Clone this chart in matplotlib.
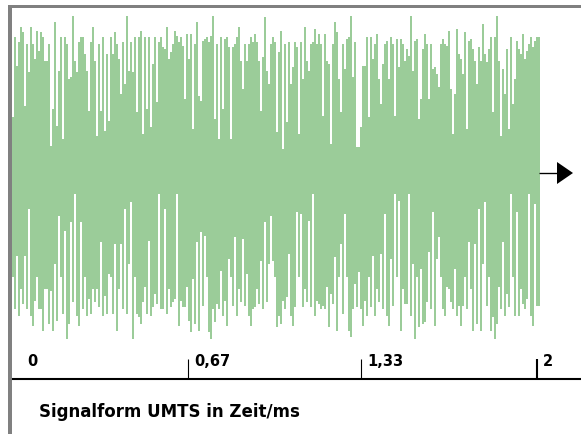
import numpy as np
import matplotlib
matplotlib.use("Agg")
import matplotlib.pyplot as plt
from matplotlib.patches import Rectangle, Polygon

# ---------------- data ----------------
# upper envelope of the UMTS signal (amplitude, arbitrary units), one value per sample
top_amp = [
    56, 136, 107, 131, 146, 141, 67, 129, 101, 146, 129, 114, 142, 122, 141, 136, 112, 112, 129, 27,
    64, 151, 47, 102, 136, 34, 136, 129, 94, 96, 157, 112, 101, 131, 136, 136, 119, 102, 62, 131,
    146, 112, 37, 129, 62, 136, 42, 119, 52, 136, 119, 141, 129, 114, 79, 131, 89, 157, 102, 131,
    101, 136, 61, 136, 142, 39, 136, 64, 136, 46, 109, 136, 71, 131, 136, 126, 124, 146, 114, 121,
    129, 142, 137, 131, 136, 127, 74, 139, 114,
    139, 44, 129, 151, 77, 72, 132, 134, 136, 131, 137, 157, 54, 129, 34, 136, 64, 134, 136, 126,
    34, 126, 129, 136, 146, 112, 84, 129, 112, 129, 136, 131, 139, 131, 112, 62, 116, 156, 102, 89,
    129, 136, 131, 41, 121, 142, 24, 129, 51, 131, 89, 106, 131, 126, 39, 131, 94, 146, 112, 102,
    129, 131, 144, 129, 139, 129, 57, 139, 112, 109, 29, 129, 151, 141, 94, 61, 129, 104, 134, 136,
    157, 96, 131, 26, 26, 46, 107, 107, 136, 56,
    136, 114, 129, 139, 94, 69, 109, 129, 132, 94, 136, 129, 57, 134, 106, 134, 129, 112, 124, 117,
    157, 102, 132, 134, 54, 74, 124, 139, 129, 74, 129, 104, 106, 99, 86, 129, 134, 129, 127, 142,
    84, 39, 79, 144, 119, 114, 99, 141, 44, 132, 134, 124, 112, 89, 126, 112, 149, 119, 111, 124,
    136, 61, 136, 157, 112, 37, 104, 79, 124, 44, 136, 69, 94, 132, 124, 119, 139, 114, 122, 129,
    136, 126, 132, 136, 136,
]
# lower envelope of the UMTS signal
bottom_amp = [
    -104, -136, -83, -143, -116, -131, -83, -136, -36, -143, -153, -128, -104, -136, -136, -158, -116, -116, -151, -118,
    -158, -91, -148, -43, -104, -141, -58, -166, -151, -49, -129, -21, -143, -153, -49, -136, -104, -143, -126, -141,
    -116, -129, -116, -134, -69, -143, -123, -141, -101, -104, -141, -71, -158, -116, -71, -136, -36, -141, -91, -29,
    -166, -104, -141, -144, -151, -129, -114, -141, -68, -143, -134, -121, -131, -21, -136, -136, -36, -141, -116, -134,
    -129, -126, -21, -153, -128, -134, -134, -114, -148,
    -159, -106, -151, -69, -158, -59, -133, -63, -104, -159, -166, -136, -149, -131, -136, -98, -143, -128, -153, -86,
    -104, -133, -64, -143, -116, -129, -66, -133, -101, -143, -153, -136, -134, -116, -131, -88, -136, -49, -129, -91,
    -43, -88, -104, -154, -143, -151, -128, -136, -124, -81, -143, -153, -134, -39, -104, -41, -134, -116, -129, -48,
    -134, -21, -143, -128, -131, -136, -133, -136, -114, -154, -121, -131, -84, -158, -104, -71, -141, -41, -104, -158,
    -164, -136, -111, -134, -99, -136, -153, -128, -143, -104,
    -134, -83, -143, -116, -129, -81, -136, -41, -143, -153, -86, -133, -21, -104, -28, -158, -116, -131, -131, -21,
    -143, -91, -166, -104, -154, -96, -151, -149, -129, -79, -136, -39, -153, -86, -64, -104, -136, -143, -114, -116,
    -129, -136, -96, -143, -133, -153, -133, -104, -136, -69, -116, -158, -71, -151, -36, -158, -91, -29, -133, -104,
    -158, -144, -166, -151, -114, -136, -69, -143, -121, -134, -21, -104, -143, -39, -143, -116, -131, -136, -126, -21,
    -143, -153, -31, -133, -133,
]
duration_ms = 2.0
tick_values = [0.0, 0.67, 1.33, 2.0]
tick_labels = ["0", "0,67", "1,33", "2"]
caption = "Signalform UMTS in Zeit/ms"

# ---------------- layout ----------------
W, H = 581, 435
PX_PER_MS = 262.5          # horizontal scale
X0 = 12                    # pixel column of t = 0
Y0 = 174                   # pixel row of amplitude 0
GREEN = "#9bcc99"
GRAY = "#808080"

fig = plt.figure(figsize=(W / 100, H / 100), dpi=100)
fig.patch.set_facecolor("white")
ax = fig.add_axes([0, 0, 1, 1])
ax.set_xlim(-X0 / PX_PER_MS, (W - X0) / PX_PER_MS)
ax.set_ylim(Y0 - H, Y0)
ax.axis("off")

def tx(px):   # pixel offset -> time units
    return px / PX_PER_MS

n = min(len(top_amp), len(bottom_amp))
dt = tx(2)
t = np.arange(n) * dt
top = np.array(top_amp[:n], dtype=float)
bot = np.array(bottom_amp[:n], dtype=float)

# zero line behind the signal
ax.plot([0, tx(545)], [0, 0], color="black", lw=0.8, zorder=1, solid_capstyle="butt")
# signal
ax.bar(t, top - bot, bottom=bot, width=dt, align="edge", color=GREEN,
       linewidth=0, zorder=2)
# arrow to the right of the signal
ax.plot([tx(527), tx(546)], [0, 0], color="black", lw=0.9, zorder=3, solid_capstyle="butt")
ax.add_patch(Polygon([[tx(545), 11], [tx(561), 0], [tx(545), -11]],
                     closed=True, color="black", zorder=3, lw=0))

# time axis
axis_y = Y0 - 380
ax.plot([tx(0), tx(W)], [axis_y, axis_y], color="black", lw=1.5, zorder=3,
        solid_capstyle="butt")
for v, lab in zip(tick_values, tick_labels):
    if v > 0:
        lw = 1.5 if v == duration_ms else 0.8
        ax.plot([v, v], [axis_y, axis_y + 20], color="black", lw=lw, zorder=3,
                solid_capstyle="butt")
        xl = v + tx(6)
    else:
        xl = v + tx(15)
    ax.text(xl, Y0 - 366, lab, fontsize=10.5, fontweight="bold",
            family="DejaVu Sans", ha="left", va="baseline", color="black")

ax.text(tx(27), Y0 - 417, caption, fontsize=12, fontweight="bold",
        family="DejaVu Sans", ha="left", va="baseline", color="black")

# panel border (left and top)
fig.add_artist(Rectangle((8 / W, 0), 4 / W, (H - 6) / H, transform=fig.transFigure,
                         facecolor=GRAY, edgecolor="none"))
fig.add_artist(Rectangle((8 / W, (H - 9) / H), (W - 8) / W, 3 / H,
                         transform=fig.transFigure, facecolor=GRAY, edgecolor="none"))

fig.savefig("out.png", dpi=100, facecolor="white")
